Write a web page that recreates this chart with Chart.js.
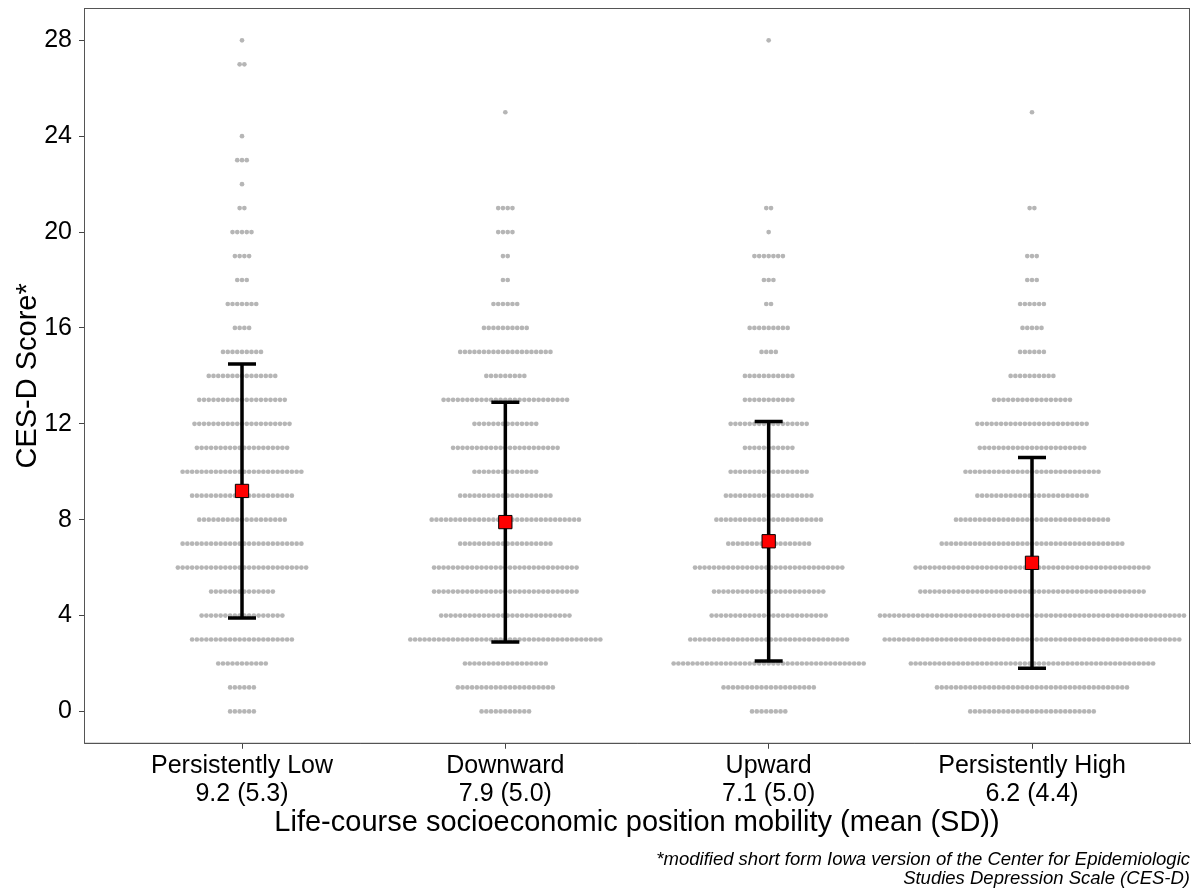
<!DOCTYPE html>
<html>
<head>
<meta charset="utf-8">
<script src="https://cdn.jsdelivr.net/npm/chart.js@4.4.1/dist/chart.umd.min.js"></script>
<style>
  html, body { margin: 0; padding: 0; background: #fff; }
</style>
</head>
<body>
<canvas id="cesd" width="1196" height="892"></canvas>
<script>
const groups = ['Persistently Low', 'Downward', 'Upward', 'Persistently High'];
const groupMeans = [9.2, 7.9, 7.1, 6.2];
const groupSDs = [5.3, 5.0, 5.0, 4.4];

// CES-D score levels, and how many respondents sit at each level
const scores = [0, 1, 2, 3, 4, 5, 6, 7, 8, 9, 10, 11, 12, 13, 14, 15, 16, 17, 18, 19, 20, 21, 22, 23, 24, 25, 26, 27, 28];
const countsLow  = [6, 6, 11, 22, 18, 14, 28, 26, 19, 22, 26, 20, 21, 19, 15, 9, 4, 7, 3, 4, 5, 2, 1, 3, 1, 0, 0, 2, 1];
const countsDown = [11, 21, 18, 41, 28, 31, 31, 20, 32, 20, 14, 23, 14, 27, 9, 20, 10, 6, 2, 2, 4, 4, 0, 0, 0, 1, 0, 0, 0];
const countsUp   = [8, 20, 41, 34, 25, 24, 32, 18, 23, 19, 17, 11, 17, 11, 11, 4, 9, 2, 3, 7, 1, 2, 0, 0, 0, 0, 0, 0, 1];
const countsHigh = [27, 41, 52, 63, 65, 48, 50, 39, 33, 24, 29, 23, 24, 17, 10, 6, 5, 6, 3, 3, 0, 2, 0, 0, 0, 1, 0, 0, 0];

const yTicks = [0, 4, 8, 12, 16, 20, 24, 28];

const FONT = "'Liberation Sans', Arial, Helvetica, sans-serif";
const DOT_STEP = 0.01804; // gap between neighbouring dots, in category units

Chart.defaults.font.family = FONT;

const countsByGroup = [countsLow, countsDown, countsUp, countsHigh];
const dotPoints = [];
countsByGroup.forEach((counts, g) => {
  counts.forEach((n, k) => {
    for (let j = 0; j < n; j++) {
      dotPoints.push({ x: g + 1 + (j - (n - 1) / 2) * DOT_STEP, y: scores[k] });
    }
  });
});

const panelBorder = {
  id: 'panelBorder',
  beforeDatasetsDraw(chart) {
    const { ctx, chartArea: a } = chart;
    ctx.save();
    ctx.strokeStyle = '#555';
    ctx.lineWidth = 1;
    ctx.strokeRect(a.left + 0.5, a.top + 0.5, a.right - a.left - 1, a.bottom - a.top - 1);
    ctx.restore();
  }
};

// mean +/- SD whiskers, drawn over the dots and under the mean squares
const errorBars = {
  id: 'errorBars',
  afterDatasetDraw(chart, args) {
    if (args.index !== 1) return;
    const { ctx, scales: { x, y } } = chart;
    ctx.save();
    ctx.strokeStyle = '#000';
    ctx.lineWidth = 3.5;
    groupMeans.forEach((m, i) => {
      const px = x.getPixelForValue(i + 1);
      const lo = y.getPixelForValue(m - groupSDs[i]);
      const hi = y.getPixelForValue(m + groupSDs[i]);
      ctx.beginPath();
      ctx.moveTo(px, lo); ctx.lineTo(px, hi);
      ctx.moveTo(px - 14, lo); ctx.lineTo(px + 14, lo);
      ctx.moveTo(px - 14, hi); ctx.lineTo(px + 14, hi);
      ctx.stroke();
    });
    ctx.restore();
  }
};

new Chart(document.getElementById('cesd').getContext('2d'), {
  type: 'scatter',
  data: {
    datasets: [
      {
        label: 'Mean',
        data: groupMeans.map((m, i) => ({ x: i + 1, y: m })),
        pointStyle: 'rect',
        pointRadius: 9.4,
        backgroundColor: '#ff0000',
        borderColor: '#000',
        borderWidth: 1
      },
      {
        label: 'Respondents',
        data: dotPoints,
        pointRadius: 2.35,
        backgroundColor: '#b6b6b6',
        borderWidth: 0
      }
    ]
  },
  options: {
    responsive: false,
    animation: false,
    events: [],
    layout: { autoPadding: false, padding: { top: 8, right: 6, left: 0, bottom: 0 } },
    scales: {
      x: {
        type: 'linear',
        min: 0.4,
        max: 4.6,
        afterBuildTicks: s => { s.ticks = groups.map((g, i) => ({ value: i + 1 })); },
        afterFit: s => { s.height = 106; s.paddingLeft = 0; s.paddingRight = 0; },
        grid: { drawOnChartArea: false, tickLength: 5, color: '#444' },
        border: { color: '#555' },
        ticks: {
          color: '#000',
          font: { size: 25, lineHeight: 1.14 },
          padding: 3,
          maxRotation: 0,
          autoSkip: false,
          callback: v => {
            const i = Math.round(v) - 1;
            return [groups[i], groupMeans[i].toFixed(1) + ' (' + groupSDs[i].toFixed(1) + ')'];
          }
        },
        title: {
          display: true,
          text: 'Life-course socioeconomic position mobility (mean (SD))',
          color: '#000',
          font: { size: 29, lineHeight: 1.2 },
          padding: { top: 0, bottom: 9 }
        }
      },
      y: {
        min: -1.35,
        max: 29.35,
        afterBuildTicks: s => { s.ticks = yTicks.map(v => ({ value: v })); },
        afterFit: s => { s.width = 84; s.paddingTop = 0; s.paddingBottom = 0; },
        grid: { drawOnChartArea: false, tickLength: 5, color: '#444' },
        border: { color: '#999' },
        ticks: { color: '#000', font: { size: 25 }, padding: 7 },
        title: {
          display: true,
          text: 'CES-D Score*',
          color: '#000',
          font: { size: 29, lineHeight: 1.2 },
          padding: { top: 10.5, bottom: 0 }
        }
      }
    },
    plugins: {
      legend: { display: false },
      tooltip: { enabled: false },
      title: {
        display: true,
        position: 'bottom',
        align: 'end',
        text: ['*modified short form Iowa version of the Center for Epidemiologic', 'Studies Depression Scale (CES-D)'],
        color: '#000',
        font: { size: 18.5, style: 'italic', weight: 'normal', lineHeight: 1.06 },
        padding: { top: 0, bottom: 3 }
      }
    }
  },
  plugins: [panelBorder, errorBars]
});
</script>
</body>
</html>
